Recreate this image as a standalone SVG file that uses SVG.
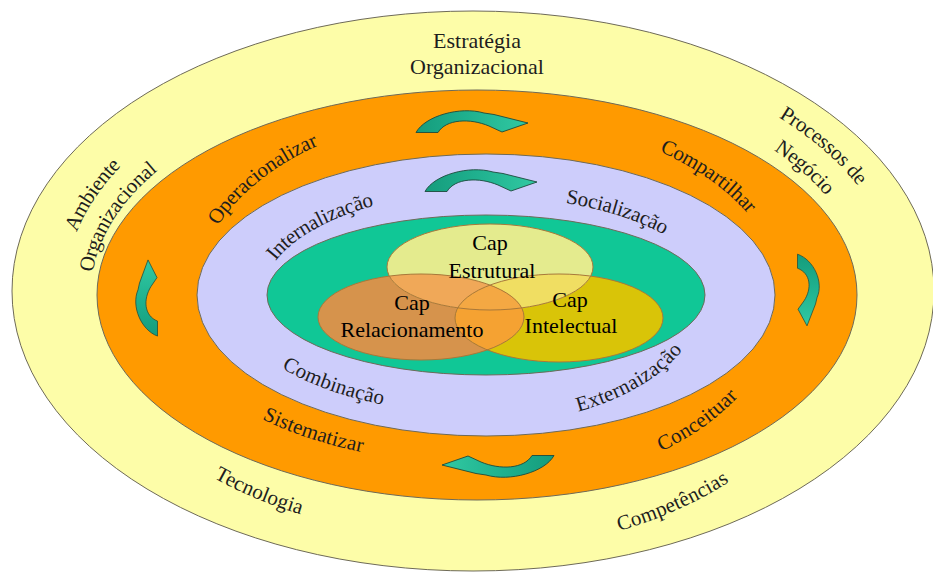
<svg xmlns="http://www.w3.org/2000/svg" width="933" height="574" viewBox="0 0 933 574">
  <style>
    text { font-family: "Liberation Serif", "Times New Roman", serif; fill: #1e1e1e; }
    .ring { stroke: #6e6a58; stroke-width: 1; }
    .lbl { font-size: 21px; text-anchor: middle; dominant-baseline: central; }
    .title { font-size: 22px; text-anchor: middle; }
    .cap { font-size: 22px; fill: #000; text-anchor: middle; }
    .arrow { fill: url(#arrowFill); stroke: #1d4a3c; stroke-width: 0.9; stroke-linejoin: round; }
    .edge { fill: none; stroke: #a8783a; stroke-width: 1; }
  </style>
  <defs>
    <!-- baselines for the curved labels (elliptic arcs around the rings) -->
    <path id="pAmb" d="M64.8,244.4 A417.7,257.7 0 0 1 132,145.9"/>
    <path id="pOrgA" d="M84.5,281.2 A391,225 0 0 1 172,150.8"/>
    <path id="pProc" d="M760.1,98.7 A430.2,259.4 0 0 1 873.4,195.1"/>
    <path id="pNeg" d="M758.7,132.5 A397.7,229 0 0 1 841.4,203.9"/>
    <path id="pTec" d="M207,466.2 A388.2,239.5 0 0 0 317.4,511.9"/>
    <path id="pComp" d="M595,530.1 A365.4,251 0 0 0 739.9,465.9"/>
    <path id="pOper" d="M208.4,227.8 A291.5,189.5 0 0 1 332.6,131.9"/>
    <path id="pCompart" d="M639.6,135.9 A306.8,185.9 0 0 1 761.3,219.5"/>
    <path id="pSist" d="M241.4,399.8 A314.2,162.1 0 0 0 400.2,451.7"/>
    <path id="pConc" d="M637.6,454.3 A294,188.2 0 0 0 742.8,380.6"/>
    <path id="pInt" d="M268.7,258.5 A230.2,110.5 0 0 1 393.1,193.9"/>
    <path id="pSoc" d="M550.2,193.7 A234.1,105.3 0 0 1 672.3,231.2"/>
    <path id="pComb" d="M279.9,358.7 A250.1,112.5 0 0 0 400.7,400.8"/>
    <path id="pExt" d="M557.5,409.4 A209.9,121.7 0 0 0 679.9,341.6"/>

    <!-- arrow shading: darker at the tail, lighter at the head -->
    <linearGradient id="arrowFill" x1="0" y1="0" x2="1" y2="0">
      <stop offset="0" stop-color="#159c7c"/>
      <stop offset="0.45" stop-color="#1fb08e"/>
      <stop offset="1" stop-color="#31c9a2"/>
    </linearGradient>
    <!-- curved cycle arrow: points right, bulges upward -->
    <path id="cycArrow" d="M-56,10.5 C-47,-6 -12,-16 12,-9 L22,-7.5 L56,1 L30,10 L17,4 C-2,-4 -26,-3 -34,10.5 Z"/>

    <!-- the three capital sets -->
    <clipPath id="clipEst"><ellipse cx="490" cy="267" rx="103" ry="43"/></clipPath>
    <clipPath id="clipRel"><ellipse cx="421" cy="317" rx="103" ry="43"/></clipPath>
  </defs>

  <!-- outer ring: organisational context -->
  <g id="ring-context">
    <ellipse class="ring" cx="473" cy="291" rx="461" ry="280" fill="#fdfda8"/>
    <text class="title" x="477" y="48">Estratégia</text>
    <text class="title" x="477" y="74">Organizacional</text>
    <text class="lbl"><textPath href="#pAmb" startOffset="57.3">Ambiente</textPath></text>
    <text class="lbl"><textPath href="#pOrgA" startOffset="74.3">Organizacional</textPath></text>
    <text class="lbl"><textPath href="#pProc" startOffset="79.5">Processos de</textPath></text>
    <text class="lbl"><textPath href="#pNeg" startOffset="58">Negócio</textPath></text>
    <text class="lbl"><textPath href="#pTec" startOffset="58.1">Tecnologia</textPath></text>
    <text class="lbl"><textPath href="#pComp" startOffset="82.4">Competências</textPath></text>
  </g>

  <!-- orange ring: actions -->
  <g id="ring-actions">
    <ellipse class="ring" cx="477" cy="295" rx="380" ry="205" fill="#ff9a00"/>
    <text class="lbl"><textPath href="#pOper" startOffset="74.3">Operacionalizar</textPath></text>
    <text class="lbl"><textPath href="#pCompart" startOffset="80.4">Compartilhar</textPath></text>
    <text class="lbl"><textPath href="#pSist" startOffset="79">Sistematizar</textPath></text>
    <text class="lbl"><textPath href="#pConc" startOffset="68.7">Conceituar</textPath></text>
  </g>

  <!-- lavender ring: knowledge conversion -->
  <g id="ring-conversion">
    <ellipse class="ring" cx="486" cy="295" rx="289" ry="141" fill="#cdcdfb"/>
    <text class="lbl"><textPath href="#pInt" startOffset="62.1">Internalização</textPath></text>
    <text class="lbl"><textPath href="#pSoc" startOffset="69.6">Socialização</textPath></text>
    <text class="lbl"><textPath href="#pComb" startOffset="59">Combinação</textPath></text>
    <text class="lbl"><textPath href="#pExt" startOffset="78.7">Externaização</textPath></text>
  </g>

  <!-- green core -->
  <g id="core">
    <ellipse class="ring" cx="486" cy="295" rx="219" ry="80" fill="#10c796"/>
  </g>

  <!-- capital sets with overlaps -->
  <g id="capitals">
    <ellipse cx="421" cy="317" rx="103" ry="43" fill="#d6934c"/>
    <ellipse cx="559" cy="318" rx="104" ry="44" fill="#d9c408"/>
    <ellipse cx="490" cy="267" rx="103" ry="43" fill="#e4eb8e"/>
    <g clip-path="url(#clipEst)">
      <ellipse cx="421" cy="317" rx="103" ry="43" fill="#f0a858"/>
      <ellipse cx="559" cy="318" rx="104" ry="44" fill="#f0de62"/>
    </g>
    <g clip-path="url(#clipRel)">
      <ellipse cx="559" cy="318" rx="104" ry="44" fill="#f5a232"/>
    </g>
    <g clip-path="url(#clipRel)">
      <g clip-path="url(#clipEst)">
        <ellipse cx="559" cy="318" rx="104" ry="44" fill="#f4a843"/>
      </g>
    </g>
    <ellipse class="edge" cx="490" cy="267" rx="103" ry="43"/>
    <ellipse class="edge" cx="421" cy="317" rx="103" ry="43"/>
    <ellipse class="edge" cx="559" cy="318" rx="104" ry="44"/>
  </g>

  <g id="cap-estrutural">
    <text class="cap" x="490" y="250">Cap</text>
    <text class="cap" x="492" y="278">Estrutural</text>
  </g>
  <g id="cap-relacionamento">
    <text class="cap" x="412" y="310">Cap</text>
    <text class="cap" x="412" y="337">Relacionamento</text>
  </g>
  <g id="cap-intelectual">
    <text class="cap" x="570" y="307">Cap</text>
    <text class="cap" x="571" y="333">Intelectual</text>
  </g>

  <!-- clockwise cycle arrows -->
  <g id="connectors">
    <use href="#cycArrow" class="arrow" transform="translate(472,122)"/>
    <use href="#cycArrow" class="arrow" transform="translate(481,181)"/>
    <use href="#cycArrow" class="arrow" transform="translate(147,298) rotate(-90) scale(0.68,1)"/>
    <use href="#cycArrow" class="arrow" transform="translate(808,290) rotate(90) scale(0.64,1)"/>
    <use href="#cycArrow" class="arrow" transform="translate(498,466) rotate(180)"/>
  </g>
</svg>
